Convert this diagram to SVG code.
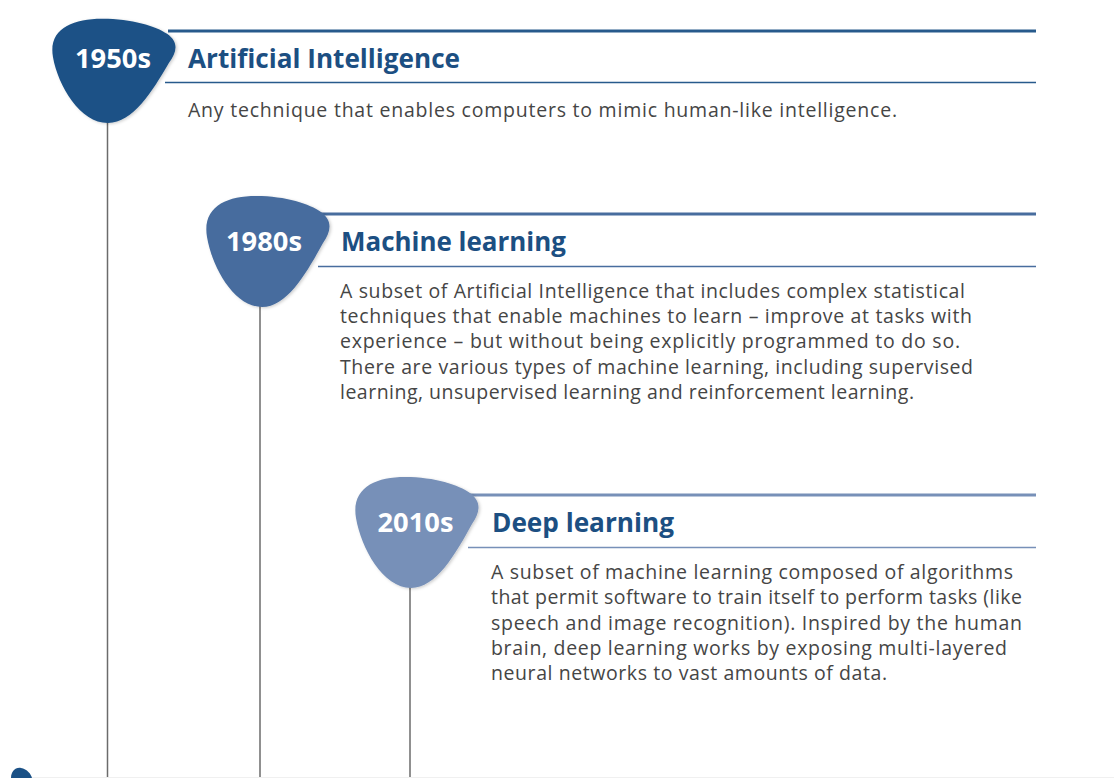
<svg xmlns="http://www.w3.org/2000/svg" width="1114" height="778" viewBox="0 0 1114 778">
<defs>
<style>
.vline{stroke:#6b6b6b;stroke-width:1.5;fill:none}
.year{font-family:"Open Sans","Liberation Sans",sans-serif;font-weight:700;font-size:27px;fill:#fff;text-anchor:middle}
.title{font-family:"Open Sans","Liberation Sans",sans-serif;font-weight:700;font-size:27px;fill:#1c4f82}
.body{font-family:"Open Sans","Liberation Sans",sans-serif;font-size:19.5px;fill:#454545}
</style>
<path id="blob" d="M0 0 C-28 0 -50 -40 -55 -70 C-60 -100 -36 -111 -6 -111 C24 -111 48 -103 59 -95 C71 -86 69 -76 61 -64 C44 -33 25 0 0 0 Z"/>
<filter id="sh" x="-20%" y="-20%" width="140%" height="140%"><feDropShadow dx="1.5" dy="1" stdDeviation="1.5" flood-color="#000" flood-opacity="0.2"/></filter>
</defs>
<rect width="1114" height="778" fill="#fff"/>
<g id="connectors">
<line class="vline" x1="107.5" y1="120" x2="107.5" y2="778"/>
<line class="vline" x1="260" y1="304" x2="260" y2="778"/>
<line class="vline" x1="410" y1="585" x2="410" y2="778"/>
</g>
<g id="node-1950s">
<line x1="168" y1="31" x2="1036" y2="31" stroke="#275a8c" stroke-width="3"/>
<line x1="165" y1="82.5" x2="1036" y2="82.5" stroke="#275a8c" stroke-width="1.5"/>
<use href="#blob" transform="translate(108 123) scale(1 0.94)" fill="#1b5186" filter="url(#sh)"/>
<text class="year" x="113" y="68" textLength="76" lengthAdjust="spacingAndGlyphs">1950s</text>
<text class="title" x="188" y="68" textLength="272" lengthAdjust="spacingAndGlyphs">Artificial Intelligence</text>
<text class="body" x="188" y="117" textLength="709">Any technique that enables computers to mimic human-like intelligence.</text>
</g>
<g id="node-1980s">
<line x1="320" y1="214" x2="1036" y2="214" stroke="#486d9e" stroke-width="3"/>
<line x1="318" y1="266.5" x2="1036" y2="266.5" stroke="#486d9e" stroke-width="1.5"/>
<use href="#blob" x="262" y="307" fill="#476c9e" filter="url(#sh)"/>
<text class="year" x="264" y="251" textLength="76" lengthAdjust="spacingAndGlyphs">1980s</text>
<text class="title" x="341" y="251" textLength="225" lengthAdjust="spacingAndGlyphs">Machine learning</text>
<text class="body" x="340" y="298" textLength="625">A subset of Artificial Intelligence that includes complex statistical</text>
<text class="body" x="340" y="323" textLength="632">techniques that enable machines to learn – improve at tasks with</text>
<text class="body" x="340" y="348" textLength="620">experience – but without being explicitly programmed to do so.</text>
<text class="body" x="340" y="374" textLength="633">There are various types of machine learning, including supervised</text>
<text class="body" x="340" y="399" textLength="574">learning, unsupervised learning and reinforcement learning.</text>
</g>
<g id="node-2010s">
<line x1="470" y1="495" x2="1036" y2="495" stroke="#7790b8" stroke-width="3"/>
<line x1="468" y1="547.5" x2="1036" y2="547.5" stroke="#7790b8" stroke-width="1.5"/>
<use href="#blob" x="411" y="588" fill="#7790b8" filter="url(#sh)"/>
<text class="year" x="415.5" y="532" textLength="76" lengthAdjust="spacingAndGlyphs">2010s</text>
<text class="title" x="492" y="532" textLength="182" lengthAdjust="spacingAndGlyphs">Deep learning</text>
<text class="body" x="491" y="579" textLength="522">A subset of machine learning composed of algorithms</text>
<text class="body" x="491" y="604" textLength="531">that permit software to train itself to perform tasks (like</text>
<text class="body" x="491" y="630" textLength="531">speech and image recognition). Inspired by the human</text>
<text class="body" x="491" y="655" textLength="516">brain, deep learning works by exposing multi-layered</text>
<text class="body" x="491" y="680" textLength="396">neural networks to vast amounts of data.</text>
</g>
<g id="node-partial">
<line x1="30" y1="777.5" x2="1114" y2="777.5" stroke="#f0f0f0" stroke-width="1"/>
<path d="M11 778 C11 772 15 767 21 768 C27 769 31 774 32 778 Z" fill="#1b5186"/>
</g>
</svg>
